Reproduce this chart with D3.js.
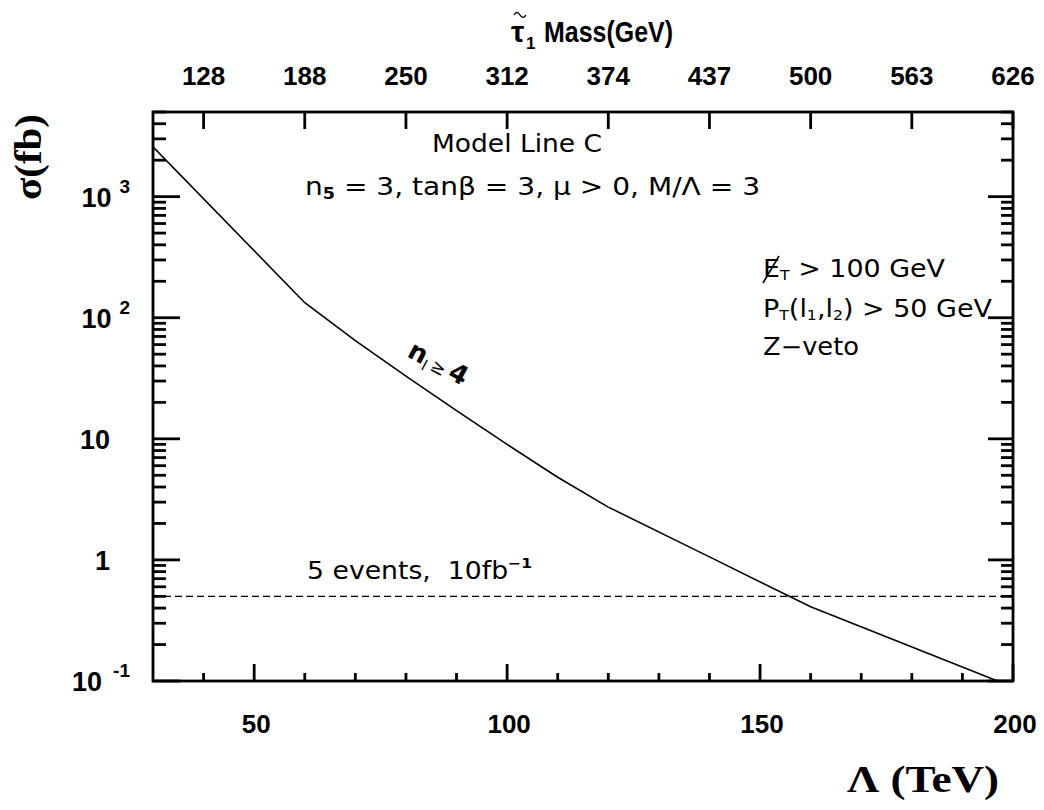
<!DOCTYPE html>
<html>
<head>
<meta charset="utf-8">
<script src="https://cdn.jsdelivr.net/npm/d3@7"></script>
<style>
  body { margin: 0; background: #fff; }
  svg { display: block; }
  .tick-label { font-family: "Liberation Sans", Arial, sans-serif; font-weight: bold; fill: #000; }
  .note { font-family: "DejaVu Sans", sans-serif; fill: #000; white-space: pre; }
  .serif { font-family: "Liberation Serif", "Times New Roman", serif; font-weight: bold; fill: #000; }
</style>
</head>
<body>
<svg id="chart"></svg>
<script>
const width = 1044;
const height = 810;

// data
const lambdaTeV = [30, 60, 70, 80, 90, 100, 110, 120, 140, 160, 200];
const sigmaFb = [2580, 133, 64.6, 33, 17.1, 9.0, 4.82, 2.73, 1.06, 0.41, 0.089];
const eventLimit = 0.5; // 5 events at 10 fb^-1

const xTicksMajor = [50, 100, 150, 200];
const massTicks = [40, 60, 80, 100, 120, 140, 160, 180, 200];
const massLabels = ["128", "188", "250", "312", "374", "437", "500", "563", "626"];
const yDecades = [0.1, 1, 10, 100, 1000];
const yLabels = [["10", "-1"], ["1", null], ["10", null], ["10", "2"], ["10", "3"]];

const margin = {left: 153, right: 1013, top: 112, bottom: 681};

const svg = d3.select("#chart")
  .attr("width", width)
  .attr("height", height)
  .attr("viewBox", [0, 0, width, height]);

const x = d3.scaleLinear().domain([30, 200]).range([margin.left, margin.right]);
const y = d3.scaleLog().domain([0.1, 5000]).range([margin.bottom, margin.top]);

svg.append("defs").append("clipPath").attr("id", "plot")
  .append("rect")
    .attr("x", margin.left).attr("y", margin.top)
    .attr("width", margin.right - margin.left)
    .attr("height", margin.bottom - margin.top);

// minor ticks
const xMinor = d3.range(40, 200, 10).filter(d => !xTicksMajor.includes(d));
const yMinor = [];
for (const dec of yDecades) {
  for (let k = 2; k <= 9; k++) {
    const v = dec * k;
    if (v <= 5000) yMinor.push(v);
  }
}

const ticks = svg.append("g")
  .attr("stroke", "#000")
  .attr("stroke-width", 2.8);

// bottom
ticks.selectAll(".bmaj").data(xTicksMajor).join("line")
  .attr("x1", d => x(d)).attr("x2", d => x(d))
  .attr("y1", margin.bottom).attr("y2", margin.bottom - 17);
ticks.selectAll(".bmin").data(xMinor).join("line")
  .attr("x1", d => x(d)).attr("x2", d => x(d))
  .attr("y1", margin.bottom).attr("y2", margin.bottom - 8);

// top (stau mass)
ticks.selectAll(".tmaj").data(massTicks).join("line")
  .attr("x1", d => x(d)).attr("x2", d => x(d))
  .attr("y1", margin.top).attr("y2", margin.top + 17);

// left / right
ticks.selectAll(".lmaj").data(yDecades).join("line")
  .attr("x1", margin.left).attr("x2", margin.left + 27)
  .attr("y1", d => y(d)).attr("y2", d => y(d));
ticks.selectAll(".lmin").data(yMinor).join("line")
  .attr("x1", margin.left).attr("x2", margin.left + 13)
  .attr("y1", d => y(d)).attr("y2", d => y(d));
ticks.selectAll(".rmaj").data(yDecades).join("line")
  .attr("x1", margin.right).attr("x2", margin.right - 25)
  .attr("y1", d => y(d)).attr("y2", d => y(d));
ticks.selectAll(".rmin").data(yMinor).join("line")
  .attr("x1", margin.right).attr("x2", margin.right - 12)
  .attr("y1", d => y(d)).attr("y2", d => y(d));

// frame
svg.append("rect")
  .attr("x", margin.left).attr("y", margin.top)
  .attr("width", margin.right - margin.left)
  .attr("height", margin.bottom - margin.top)
  .attr("fill", "none")
  .attr("stroke", "#000")
  .attr("stroke-width", 2.8);

// cross section curve
const line = d3.line()
  .x((d, i) => x(lambdaTeV[i]))
  .y(d => y(d));

svg.append("path")
  .datum(sigmaFb)
  .attr("clip-path", "url(#plot)")
  .attr("fill", "none")
  .attr("stroke", "#000")
  .attr("stroke-width", 1.6)
  .attr("d", line);

// 5 events line
svg.append("line")
  .attr("x1", x(30)).attr("x2", x(200))
  .attr("y1", y(eventLimit)).attr("y2", y(eventLimit))
  .attr("stroke", "#000")
  .attr("stroke-width", 1.4)
  .attr("stroke-dasharray", "7,4");

// bottom tick labels
svg.append("g").selectAll("text").data(xTicksMajor).join("text")
  .attr("class", "tick-label")
  .attr("x", d => x(d) + 2)
  .attr("y", 733)
  .attr("text-anchor", "middle")
  .attr("font-size", 26)
  .text(d => d);

// top tick labels
svg.append("g").selectAll("text").data(massTicks).join("text")
  .attr("class", "tick-label")
  .attr("x", d => x(d))
  .attr("y", 85)
  .attr("text-anchor", "middle")
  .attr("font-size", 26)
  .text((d, i) => massLabels[i]);

// left tick labels
const yl = svg.append("g").selectAll("text").data(yDecades).join("text")
  .attr("class", "tick-label")
  .attr("x", (d, i) => yLabels[i][1] ? 130 : 110)
  .attr("y", d => y(d) + 10)
  .attr("text-anchor", "end")
  .attr("font-size", 27);
yl.append("tspan").text((d, i) => yLabels[i][0]);
yl.filter((d, i) => yLabels[i][1])
  .append("tspan")
    .attr("dx", d => d < 1 ? 11 : 8)
    .attr("dy", -14)
    .attr("font-size", 19)
    .text(d => yLabels[yDecades.indexOf(d)][1]);

// top axis title
svg.append("text")
  .attr("class", "tick-label")
  .attr("x", 511).attr("y", 42)
  .attr("font-size", 30)
  .text("τ");
svg.append("path")
  .attr("d", "M514,15 q3,-5 6,0 t6,0")
  .attr("fill", "none")
  .attr("stroke", "#000")
  .attr("stroke-width", 1.4);
svg.append("text")
  .attr("class", "tick-label")
  .attr("x", 526).attr("y", 49)
  .attr("font-size", 17)
  .text("1");
svg.append("text")
  .attr("class", "tick-label")
  .attr("x", 544).attr("y", 42)
  .attr("font-size", 30)
  .attr("textLength", 129)
  .attr("lengthAdjust", "spacingAndGlyphs")
  .text("Mass(GeV)");

svg.append("text")
  .attr("class", "serif")
  .attr("transform", "translate(41,157) rotate(-90)")
  .attr("text-anchor", "middle")
  .attr("font-size", 38)
  .attr("textLength", 86)
  .attr("lengthAdjust", "spacingAndGlyphs")
  .text("σ(fb)");

svg.append("text")
  .attr("class", "serif")
  .attr("x", 847)
  .attr("y", 792)
  .attr("font-size", 38)
  .attr("textLength", 152)
  .attr("lengthAdjust", "spacingAndGlyphs")
  .text("Λ (TeV)");

// annotations
svg.append("text")
  .attr("class", "note")
  .attr("x", 432).attr("y", 152)
  .attr("font-size", 24)
  .attr("textLength", 170)
  .attr("lengthAdjust", "spacingAndGlyphs")
  .text("Model Line C");

const params = svg.append("text")
  .attr("class", "note")
  .attr("x", 305).attr("y", 195)
  .attr("font-size", 24)
  .attr("textLength", 455)
  .attr("lengthAdjust", "spacingAndGlyphs");
params.append("tspan").text("n");
params.append("tspan").attr("font-size", 15).attr("font-weight", "bold").attr("dy", 4).text("5");
params.append("tspan").attr("dy", -4).text(" = 3, tanβ = 3, μ > 0, M/Λ = 3");

const cut1 = svg.append("text").attr("class", "note")
  .attr("x", 763).attr("y", 277).attr("font-size", 24)
  .attr("textLength", 182).attr("lengthAdjust", "spacingAndGlyphs");
cut1.append("tspan").text("E");
cut1.append("tspan").attr("font-size", 14).attr("dy", 3).text("T");
cut1.append("tspan").attr("dy", -3).text(" > 100 GeV");
svg.append("path")
  .attr("d", "M763,283 L779,256")
  .attr("stroke", "#000")
  .attr("stroke-width", 1.6);

const cut2 = svg.append("text").attr("class", "note")
  .attr("x", 763).attr("y", 317).attr("font-size", 24)
  .attr("textLength", 229).attr("lengthAdjust", "spacingAndGlyphs");
cut2.append("tspan").text("P");
cut2.append("tspan").attr("font-size", 14).attr("dy", 3).text("T");
cut2.append("tspan").attr("dy", -3).text("(l");
cut2.append("tspan").attr("font-size", 14).attr("dy", 3).text("1");
cut2.append("tspan").attr("dy", -3).text(",l");
cut2.append("tspan").attr("font-size", 14).attr("dy", 3).text("2");
cut2.append("tspan").attr("dy", -3).text(") > 50 GeV");

svg.append("text").attr("class", "note")
  .attr("x", 763).attr("y", 355).attr("font-size", 24)
  .attr("textLength", 96).attr("lengthAdjust", "spacingAndGlyphs")
  .text("Z−veto");

const ev = svg.append("text").attr("class", "note")
  .attr("x", 307).attr("y", 579).attr("font-size", 24)
  .attr("textLength", 225).attr("lengthAdjust", "spacingAndGlyphs");
ev.append("tspan").text("5 events,  10fb");
ev.append("tspan").attr("font-size", 14).attr("font-weight", "bold").attr("dy", -11).text("−1");

const nl = svg.append("text")
  .attr("class", "note")
  .attr("transform", "translate(406,356) rotate(28)")
  .attr("font-size", 26);
nl.append("tspan").attr("font-weight", "bold").text("n");
nl.append("tspan").attr("font-size", 15).attr("dy", 5).text("l");
nl.append("tspan").attr("font-size", 18).attr("dy", -4).attr("dx", 4).text("≥");
nl.append("tspan").attr("font-weight", "bold").attr("dy", -1).attr("dx", 4).text("4");
</script>
</body>
</html>
